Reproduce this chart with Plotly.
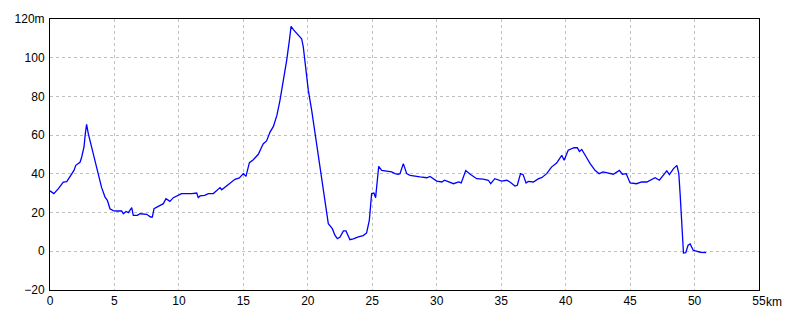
import plotly.graph_objects as go

km = [0, 0.3, 0.65, 1.03, 1.3, 1.68, 1.86, 2.0, 2.33, 2.46, 2.64, 2.74, 2.84, 2.97, 3.36, 3.75,
      4.0, 4.27, 4.45, 4.65, 4.9, 5.17, 5.56, 5.69, 5.9, 6.08, 6.34, 6.46, 6.78, 6.98, 7.5,
      7.8, 7.94, 8.07, 8.4, 8.79, 9.0, 9.3, 9.57, 9.96, 10.2, 11.0, 11.38, 11.5, 11.64, 12.0,
      12.28, 12.67, 12.88, 13.19, 13.32, 13.58, 13.96, 14.35, 14.69, 15.0, 15.2, 15.47, 15.77,
      16.16, 16.42, 16.55, 16.8, 17.07, 17.33, 17.6, 17.84, 18.1, 18.36, 18.57, 18.7, 18.88,
      19.26, 19.52, 19.65, 19.86, 20.04, 20.3, 20.56, 20.82, 21.08, 21.33, 21.59, 21.9, 22.1,
      22.29, 22.5, 22.76, 22.96, 23.27, 23.53, 23.92, 24.3, 24.56, 24.77, 24.95, 25.13, 25.26,
      25.39, 25.5, 25.73, 26.1, 26.5, 26.76, 27.0, 27.15, 27.41, 27.67, 27.93, 28.7, 29.23,
      29.48, 30.0, 30.4, 30.6, 31.3, 31.7, 31.9, 32.25, 32.6, 33.1, 33.6, 34.0, 34.19, 34.5,
      35.04, 35.43, 35.68, 36.07, 36.25, 36.5, 36.7, 36.93, 37.1, 37.5, 37.9, 38.14, 38.53,
      38.9, 39.3, 39.7, 39.88, 40.2, 40.65, 40.9, 41.07, 41.25, 41.6, 41.9, 42.28, 42.6, 42.9,
      43.45, 43.7, 44.17, 44.4, 44.7, 45.0, 45.5, 45.9, 46.3, 46.55, 46.94, 47.27, 47.6, 47.85,
      48.05, 48.37, 48.63, 48.78, 48.88, 49.0, 49.14, 49.32, 49.5, 49.66, 49.9, 50.45, 50.9]

elev = [31.2, 29.8, 32.4, 35.8, 36.0, 40.0, 41.8, 44.4, 46.0, 48.7, 53.9, 60.8, 65.6, 60.8, 50.4, 40.0,
        33.0, 28.0, 26.3, 22.0, 21.0, 20.8, 20.8, 19.4, 20.6, 20.0, 22.5, 18.6, 18.6, 19.4, 19.1,
        17.7, 17.7, 22.0, 23.2, 24.6, 27.2, 25.8, 27.7, 28.9, 29.8, 29.8, 30.1, 27.7, 28.6, 28.9,
        29.8, 29.8, 31.2, 32.9, 31.8, 33.2, 35.3, 37.2, 37.9, 40.1, 38.7, 45.8, 47.3,
        50.1, 53.9, 55.6, 57.0, 61.6, 64.5, 70.2, 78.0, 87.4, 98.6, 109.0, 116.2, 114.5,
        111.9, 109.8, 105.5, 91.7, 83.1, 72.8, 60.8, 50.4, 38.4, 26.3, 14.3, 11.7, 8.3,
        6.5, 7.4, 10.5, 10.5, 6.0, 6.4, 7.4, 8.1, 9.5, 16.0, 29.8, 30.1, 27.7,
        38.4, 43.9, 41.8, 41.3, 41.0, 40.1, 39.8, 40.1, 45.3, 40.1, 39.2, 38.4, 38.0,
        38.7, 36.3, 35.8, 36.7, 34.9, 35.8, 35.3, 41.7, 39.8, 37.5, 37.3, 36.7, 34.9, 37.5,
        36.3, 36.7, 35.8, 33.7, 34.1, 40.1, 39.6, 35.3, 36.1, 35.8, 37.5, 38.0, 40.1,
        43.5, 45.6, 49.6, 47.0, 52.2, 53.5, 53.5, 51.6, 52.6, 48.7, 45.3, 41.8, 40.1, 41.0,
        40.4, 39.8, 41.8, 39.8, 40.1, 35.3, 34.9, 35.8, 35.8, 36.7, 38.0, 36.7, 39.8, 41.5,
        39.6, 42.7, 44.4, 40.1, 29.8, 17.7, -0.9, -0.7, 3.1, 3.8, 0.5, -0.5, -0.7]

x_ticks = [0, 5, 10, 15, 20, 25, 30, 35, 40, 45, 50, 55]
x_labels = ["0", "5", "10", "15", "20", "25", "30", "35", "40", "45", "50", "55"]
y_ticks = [-20, 0, 20, 40, 60, 80, 100, 120]
y_labels = ["\u221220", "0", "20", "40", "60", "80", "100", "120m"]

font = dict(family="Liberation Sans Narrow, Liberation Sans, Arial", size=12, color="black")

fig = go.Figure(go.Scatter(x=km, y=elev, mode="lines",
                           line=dict(color="#0000ff", width=1.3), hoverinfo="skip"))

fig.update_layout(
    width=800, height=320,
    margin=dict(l=50, r=41, t=19, b=30),
    paper_bgcolor="white", plot_bgcolor="white",
    showlegend=False, font=font,
)
fig.update_xaxes(range=[0, 55], tickvals=x_ticks, ticktext=x_labels,
                 showgrid=True, gridcolor="#c0c0c0", griddash="3px,3px", gridwidth=1,
                 showline=True, linecolor="black", linewidth=1, mirror=True,
                 zeroline=False, ticks="", tickfont=font)
fig.update_yaxes(range=[-20, 120], tickvals=y_ticks, ticktext=y_labels,
                 showgrid=True, gridcolor="#c0c0c0", griddash="3px,3px", gridwidth=1,
                 showline=True, linecolor="black", linewidth=1, mirror=True,
                 zeroline=False, ticks="", tickfont=font, ticklabelstandoff=2)
fig.add_annotation(x=55, y=0, xref="x", yref="paper", text="km", showarrow=False,
                   xanchor="left", yanchor="top", xshift=5, yshift=-3, font=font)

fig.write_html("out.html")
